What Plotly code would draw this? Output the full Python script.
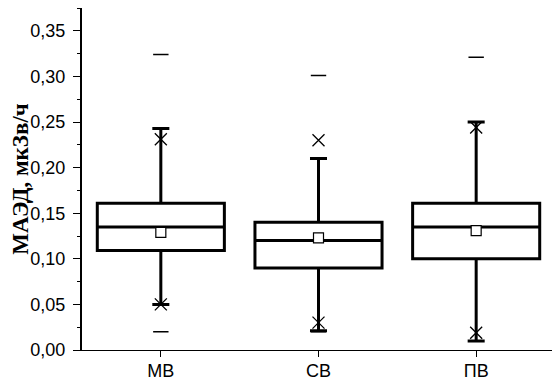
import plotly.graph_objects as go

categories = ["МВ", "СВ", "ПВ"]
q1 = [0.109, 0.090, 0.100]
median = [0.135, 0.120, 0.135]
q3 = [0.161, 0.140, 0.161]
lower_whisker = [0.050, 0.021, 0.010]
upper_whisker = [0.243, 0.210, 0.250]
means = [0.129, 0.123, 0.131]
p_low = [0.050, 0.030, 0.019]
p_high = [0.231, 0.230, 0.244]
minimum = [0.020, 0.020, 0.010]
maximum = [0.324, 0.301, 0.321]

fig = go.Figure()
fig.add_trace(go.Box(
    x=categories, q1=q1, median=median, q3=q3,
    lowerfence=lower_whisker, upperfence=upper_whisker,
    width=0.806, whiskerwidth=0.134,
    fillcolor="white", line=dict(color="black", width=3),
    hoverinfo="skip", showlegend=False,
))
fig.add_trace(go.Scatter(
    x=categories, y=means, mode="markers",
    marker=dict(symbol="square", size=10, color="white",
                line=dict(color="black", width=1.2)),
    hoverinfo="skip", showlegend=False,
))
fig.add_trace(go.Scatter(
    x=categories + categories, y=p_low + p_high, mode="markers",
    marker=dict(symbol="x-thin", size=12, color="black",
                line=dict(color="black", width=1.3)),
    hoverinfo="skip", showlegend=False,
))
fig.add_trace(go.Scatter(
    x=categories + categories, y=minimum + maximum, mode="markers",
    marker=dict(symbol="line-ew", size=11, color="black",
                line=dict(color="black", width=1.5)),
    hoverinfo="skip", showlegend=False,
))

# page body has an 8px margin, so the figure is offset by (8, 8)
fig.update_layout(
    width=552, height=374,
    margin=dict(l=74, r=5, t=0, b=31.5),
    plot_bgcolor="white", paper_bgcolor="white",
    separators=",.",
    font=dict(family="Liberation Sans, Arial", color="black"),
)
fig.update_xaxes(
    type="category", range=[-0.5, 2.5], automargin=False,
    showline=True, linecolor="black", linewidth=1.3,
    ticks="outside", ticklen=6, tickwidth=1.3, tickcolor="black",
    ticklabelstandoff=-2,
    showgrid=False, zeroline=False,
    tickfont=dict(size=18, family="Liberation Sans, Arial", color="black"),
)
fig.update_yaxes(
    range=[0, 0.375], tickvals=[0, 0.05, 0.10, 0.15, 0.20, 0.25, 0.30, 0.35],
    tickformat=".2f", automargin=False,
    showline=True, linecolor="black", linewidth=2,
    ticks="outside", ticklen=7, tickwidth=1.3, tickcolor="black",
    ticklabelstandoff=4,
    minor=dict(tickvals=[0.025, 0.075, 0.125, 0.175, 0.225, 0.275, 0.325, 0.375],
               ticks="outside", ticklen=3.5, tickwidth=1.3, tickcolor="black",
               showgrid=False),
    showgrid=False, zeroline=False,
    tickfont=dict(size=18, family="Liberation Sans, Arial", color="black"),
    title=dict(text="МАЭД, мкЗв/ч", standoff=8,
               font=dict(size=23, family="Liberation Serif, Times New Roman",
                         color="black", weight="bold")),
)

fig.write_html("out.html")
